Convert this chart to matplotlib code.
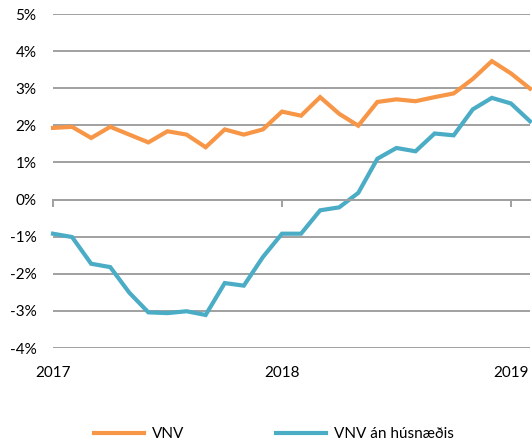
import matplotlib.pyplot as plt

plt.rcParams['font.family'] = ['Lato', 'DejaVu Sans']

# Monthly values, Jan 2017 - Feb 2019 (%)
months = list(range(26))
vnv = [1.93, 1.96, 1.66, 1.96, 1.75, 1.54, 1.84, 1.75, 1.41, 1.89, 1.75, 1.89,
       2.37, 2.26, 2.76, 2.31, 1.99, 2.63, 2.70, 2.65, 2.76, 2.86, 3.25, 3.73,
       3.40, 2.99]
vnv_an = [-0.92, -1.01, -1.73, -1.82, -2.51, -3.04, -3.06, -3.01, -3.11, -2.25,
          -2.32, -1.55, -0.92, -0.92, -0.29, -0.21, 0.18, 1.10, 1.39, 1.30,
          1.78, 1.73, 2.43, 2.74, 2.59, 2.11]
year_ticks = [0, 12, 24]
year_labels = ['2017', '2018', '2019']
y_ticks = list(range(-4, 6))
y_labels = ['{}%'.format(v) for v in y_ticks]

fig = plt.figure(figsize=(5.32, 4.46), dpi=100)
ax = fig.add_axes([53 / 532, 1 - 348 / 446, 477 / 532, 334 / 446])

orange = '#F79646'
blue = '#4BACC6'
grid_c = '#A0A0A0'

ax.plot(months, vnv, color=orange, lw=3, label='VNV', clip_on=False,
        solid_joinstyle='miter')
ax.plot(months, vnv_an, color=blue, lw=3, label='VNV án húsnæðis',
        clip_on=False, solid_joinstyle='miter')

ax.set_xlim(0, 25)
ax.set_ylim(-4, 5)
ax.set_yticks(y_ticks)
ax.set_yticklabels(y_labels)
ax.yaxis.grid(True, color=grid_c, lw=1.4)
ax.set_axisbelow(True)
ax.tick_params(axis='y', length=0, pad=12, labelsize=11)

for s in ['top', 'right', 'left']:
    ax.spines[s].set_visible(False)
ax.spines['bottom'].set_position(('data', 0))
ax.spines['bottom'].set_color(grid_c)
ax.spines['bottom'].set_linewidth(1.4)
ax.set_xticks(year_ticks)
ax.set_xticklabels([])
ax.tick_params(axis='x', direction='out', length=5, width=1.4, color=grid_c)

# year labels at the bottom of the plot
sec = ax.secondary_xaxis(0)
sec.set_xticks(year_ticks)
sec.set_xticklabels(year_labels)
sec.tick_params(length=0, pad=13, labelsize=11)
sec.spines['bottom'].set_visible(False)

fig.legend(loc='center', bbox_to_anchor=(0.515, 0.027), ncol=2, frameon=False,
           fontsize=11, handlelength=3.3, handletextpad=0.5, columnspacing=6.0)

fig.savefig('out.png', dpi=100)
